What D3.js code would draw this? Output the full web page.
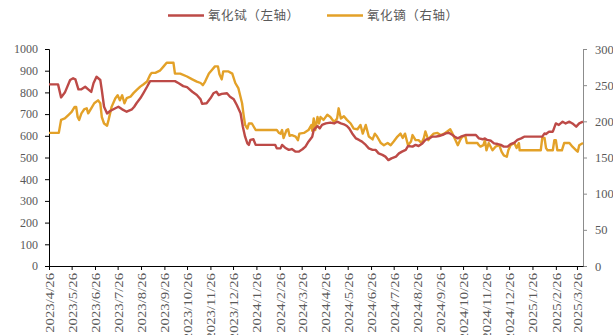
<!DOCTYPE html>
<html>
<head>
<meta charset="utf-8">
<script src="https://cdn.jsdelivr.net/npm/d3@7"></script>
<style>
  body { margin: 0; background: #fff; }
  svg { display: block; }
  .num { font-family: "Liberation Serif", "Times New Roman", "DejaVu Serif", serif; fill: #595959; }
</style>
</head>
<body>
<svg id="chart" width="613" height="335"></svg>
<script>
// 氧化铽 price (left axis)
const tbDates = [
  "2023-04-26","2023-05-08","2023-05-12","2023-05-17","2023-05-24","2023-05-28","2023-05-31","2023-06-04","2023-06-08","2023-06-13",
  "2023-06-17","2023-06-21","2023-06-24","2023-06-28","2023-07-03","2023-07-05","2023-07-08","2023-07-12","2023-07-16","2023-07-23",
  "2023-07-27","2023-08-01","2023-08-07","2023-08-14","2023-08-17","2023-08-20","2023-08-25","2023-08-29","2023-09-03","2023-09-07",
  "2023-10-10","2023-10-15","2023-10-21","2023-10-26","2023-11-02","2023-11-08","2023-11-13","2023-11-15","2023-11-21","2023-11-26",
  "2023-11-30","2023-12-04","2023-12-07","2023-12-11","2023-12-18","2023-12-22","2023-12-27","2023-12-31","2024-01-05","2024-01-08",
  "2024-01-11","2024-01-14","2024-01-16","2024-01-18","2024-01-22","2024-01-25","2024-02-20","2024-02-22","2024-02-27","2024-02-29",
  "2024-03-04","2024-03-09","2024-03-13","2024-03-18","2024-03-22","2024-03-27","2024-03-31","2024-04-04","2024-04-09","2024-04-11",
  "2024-04-16","2024-04-19","2024-04-22","2024-04-27","2024-05-03","2024-05-08","2024-05-12","2024-05-17","2024-05-21","2024-05-25",
  "2024-05-28","2024-06-01","2024-06-06","2024-06-10","2024-06-14","2024-06-19","2024-06-23","2024-06-28","2024-07-02","2024-07-06",
  "2024-07-11","2024-07-15","2024-07-19","2024-07-23","2024-07-29","2024-08-02","2024-08-06","2024-08-11","2024-08-14","2024-08-20",
  "2024-08-24","2024-08-28","2024-09-02","2024-09-06","2024-09-11","2024-09-15","2024-09-20","2024-09-24","2024-09-29","2024-10-03",
  "2024-10-07","2024-10-12","2024-10-15","2024-10-19","2024-10-23","2024-10-30","2024-11-12","2024-11-16","2024-11-21","2024-11-24",
  "2024-11-27","2024-12-02","2024-12-06","2024-12-11","2024-12-15","2024-12-19","2024-12-24","2024-12-28","2025-01-02","2025-01-06",
  "2025-01-11","2025-01-15","2025-02-08","2025-02-11","2025-02-13","2025-02-17","2025-02-22","2025-02-26","2025-03-02","2025-03-07",
  "2025-03-11","2025-03-16","2025-03-20","2025-03-25","2025-03-29","2025-04-03"
];
const tbValues = [
  837,837,777,799,857,865,860,814,814,826,
  814,802,842,872,857,811,734,703,714,727,
  734,722,711,722,734,750,773,796,826,852,
  852,842,829,824,803,788,768,747,750,773,
  796,803,788,793,796,780,768,742,704,642,
  596,565,558,581,584,558,558,542,542,558,
  545,535,539,527,527,538,550,573,596,627,
  645,634,650,657,661,657,665,657,653,645,
  634,611,588,581,573,558,542,535,535,519,
  512,504,488,496,504,519,527,535,553,550,
  558,553,565,581,588,596,596,599,604,611,
  614,604,596,588,596,604,604,588,584,588,
  581,577,565,562,558,550,550,562,568,581,
  588,596,596,611,608,619,619,657,650,665,
  657,665,657,642,657,665
];

// 氧化镝 price (right axis)
const dyDates = [
  "2023-04-26","2023-05-09","2023-05-12","2023-05-17","2023-05-22","2023-05-26","2023-05-30","2023-06-01","2023-06-03","2023-06-05",
  "2023-06-08","2023-06-12","2023-06-15","2023-06-17","2023-06-21","2023-06-25","2023-06-30","2023-07-03","2023-07-05","2023-07-08",
  "2023-07-12","2023-07-14","2023-07-18","2023-07-23","2023-07-26","2023-07-29","2023-08-01","2023-08-04","2023-08-07","2023-08-12",
  "2023-08-16","2023-08-20","2023-08-25","2023-08-29","2023-09-03","2023-09-07","2023-09-09","2023-09-14","2023-09-20","2023-09-25",
  "2023-09-29","2023-10-08","2023-10-10","2023-10-17","2023-10-26","2023-11-02","2023-11-08","2023-11-13","2023-11-16","2023-11-19",
  "2023-11-24","2023-11-28","2023-12-02","2023-12-06","2023-12-08","2023-12-11","2023-12-13","2023-12-20","2023-12-25","2023-12-29",
  "2024-01-02","2024-01-07","2024-01-09","2024-01-11","2024-01-14","2024-01-16","2024-01-20","2024-01-25","2024-02-22","2024-02-25",
  "2024-02-27","2024-02-29","2024-03-02","2024-03-06","2024-03-08","2024-03-10","2024-03-13","2024-03-18","2024-03-21","2024-03-23",
  "2024-03-29","2024-04-04","2024-04-08","2024-04-09","2024-04-11","2024-04-13","2024-04-16","2024-04-18","2024-04-20","2024-04-24",
  "2024-04-29","2024-05-03","2024-05-08","2024-05-12","2024-05-14","2024-05-17","2024-05-21","2024-05-25","2024-05-30","2024-06-03",
  "2024-06-08","2024-06-12","2024-06-15","2024-06-19","2024-06-23","2024-06-28","2024-07-01","2024-07-04","2024-07-09","2024-07-13",
  "2024-07-18","2024-07-22","2024-07-26","2024-07-31","2024-08-04","2024-08-07","2024-08-10","2024-08-14","2024-08-18","2024-08-20",
  "2024-08-24","2024-08-28","2024-09-01","2024-09-04","2024-09-06","2024-09-10","2024-09-13","2024-09-17","2024-09-22","2024-09-26",
  "2024-10-01","2024-10-05","2024-10-09","2024-10-12","2024-10-16","2024-10-19","2024-10-22","2024-10-25","2024-10-29","2024-10-31",
  "2024-11-14","2024-11-16","2024-11-18","2024-11-22","2024-11-24","2024-11-26","2024-11-29","2024-12-04","2024-12-08","2024-12-13",
  "2024-12-16","2024-12-19","2024-12-23","2024-12-25","2024-12-28","2025-01-02","2025-01-05","2025-01-08","2025-01-09","2025-02-06",
  "2025-02-08","2025-02-11","2025-02-13","2025-02-15","2025-02-22","2025-02-24","2025-02-26","2025-02-28","2025-03-06","2025-03-09",
  "2025-03-16","2025-03-20","2025-03-25","2025-03-27","2025-03-29","2025-04-03"
];
const dyValues = [
  184,184,202,204,209,213,220,220,206,202,
  211,217,218,211,218,225,229,225,206,197,
  194,202,220,232,236,229,236,225,232,234,
  239,243,248,251,255,264,267,267,270,276,
  281,281,266,266,262,258,255,253,250,255,
  266,271,276,276,265,258,269,269,266,253,
  246,225,209,195,190,197,197,188,188,184,
  183,188,177,188,189,180,181,179,174,183,
  184,188,195,187,204,188,206,197,206,202,
  209,206,199,204,218,204,207,202,197,190,
  189,195,183,195,179,175,183,179,170,167,
  170,167,172,179,183,177,183,167,172,181,
  174,174,170,177,186,174,179,183,184,181,
  183,186,189,183,174,167,174,179,180,170,
  170,167,165,167,174,160,170,160,165,167,
  158,153,151,160,167,170,163,170,160,160,
  177,177,163,160,160,174,174,160,160,170,
  170,165,160,158,167,170
];

const leftTicks = [0, 100, 200, 300, 400, 500, 600, 700, 800, 900, 1000];
const rightTicks = [0, 50, 100, 150, 200, 250, 300];
const monthTicks = [
  "2023/4/26","2023/5/26","2023/6/26","2023/7/26","2023/8/26","2023/9/26","2023/10/26","2023/11/26",
  "2023/12/26","2024/1/26","2024/2/26","2024/3/26","2024/4/26","2024/5/26","2024/6/26","2024/7/26",
  "2024/8/26","2024/9/26","2024/10/26","2024/11/26","2024/12/26","2025/1/26","2025/2/26","2025/3/26"
];
const seriesNames = ["氧化铽（左轴）", "氧化镝（右轴）"];
const seriesColors = ["#BD4A47", "#E3A128"];

const svg = d3.select("#chart");
const plot = { left: 49, right: 583, top: 49, bottom: 266 };
const labelColor = "#595959";
const numFontFamily = "Liberation Serif, Times New Roman, DejaVu Serif, serif";

const parseISO = d3.timeParse("%Y-%m-%d");
const parseTick = d3.timeParse("%Y/%m/%d");

const tb = tbDates.map((d, i) => ({ date: parseISO(d), value: tbValues[i] }));
const dy = dyDates.map((d, i) => ({ date: parseISO(d), value: dyValues[i] }));

const x = d3.scaleTime()
  .domain(d3.extent(tb.concat(dy), d => d.date))
  .range([plot.left, plot.right]);
const yL = d3.scaleLinear().domain([0, 1000]).range([plot.bottom, plot.top]);
const yR = d3.scaleLinear().domain([0, 300]).range([plot.bottom, plot.top]);

function styleNumbers(g, size) {
  g.attr("font-family", numFontFamily);
  g.selectAll(".tick text")
    .attr("class", "num")
    .attr("fill", labelColor)
    .style("fill", labelColor)
    .style("font-size", size);
}

// left axis
const leftAxis = svg.append("g")
  .attr("transform", `translate(${plot.left},0)`)
  .call(d3.axisLeft(yL).tickValues(leftTicks).tickFormat(d3.format("d")).tickSize(4).tickPadding(7));
leftAxis.select(".domain").attr("stroke", "#000").attr("stroke-width", 1);
leftAxis.selectAll(".tick line").attr("stroke", "#000");
styleNumbers(leftAxis, "12px");

// right axis
const rightAxis = svg.append("g")
  .attr("transform", `translate(${plot.right},0)`)
  .call(d3.axisRight(yR).tickValues(rightTicks).tickFormat(d3.format("d")).tickSize(4).tickPadding(8));
rightAxis.select(".domain").attr("stroke", "#8c8c8c").attr("stroke-width", 1);
rightAxis.selectAll(".tick line").attr("stroke", "#8c8c8c");
styleNumbers(rightAxis, "12.5px");

// bottom date axis
const bottomAxis = svg.append("g")
  .attr("transform", `translate(0,${plot.bottom})`)
  .call(d3.axisBottom(x)
    .tickValues(monthTicks.map(parseTick))
    .tickFormat((d, i) => monthTicks[i])
    .tickSize(4)
    .tickSizeOuter(0));
bottomAxis.select(".domain").attr("stroke", "#000").attr("stroke-width", 1);
bottomAxis.selectAll(".tick line").attr("stroke", "#000");
styleNumbers(bottomAxis, "12.5px");
bottomAxis.selectAll(".tick text")
  .attr("text-anchor", "end")
  .attr("dy", "0.35em")
  .attr("y", 0)
  .attr("x", 0)
  .attr("transform", "translate(0,7) rotate(-90) scale(1.18,1)");

// series lines
const lineL = d3.line().x(d => x(d.date)).y(d => yL(d.value));
const lineR = d3.line().x(d => x(d.date)).y(d => yR(d.value));

svg.append("path").datum(dy)
  .attr("fill", "none").attr("stroke", seriesColors[1])
  .attr("stroke-width", 2.4).attr("stroke-linejoin", "round")
  .attr("d", lineR);
svg.append("path").datum(tb)
  .attr("fill", "none").attr("stroke", seriesColors[0])
  .attr("stroke-width", 2.4).attr("stroke-linejoin", "round")
  .attr("d", lineL);

// legend
const legendItems = [
  { name: seriesNames[0], color: seriesColors[0], x: 168 },
  { name: seriesNames[1], color: seriesColors[1], x: 327 }
];
const legend = svg.append("g");
legendItems.forEach(item => {
  legend.append("line")
    .attr("x1", item.x).attr("x2", item.x + 36)
    .attr("y1", 15.5).attr("y2", 15.5)
    .attr("stroke", item.color).attr("stroke-width", 2.4);
  legend.append("text")
    .attr("x", item.x + 40).attr("y", 16)
    .attr("dy", "0.35em")
    .attr("fill", labelColor)
    .style("font-family", "'Noto Sans CJK SC', sans-serif")
    .style("font-size", "12.5px")
    .style("letter-spacing", "0.6px")
    .text(item.name);
});
</script>
</body>
</html>
